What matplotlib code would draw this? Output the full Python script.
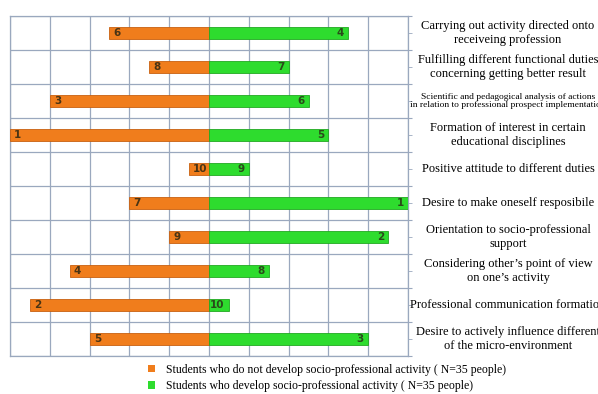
import matplotlib
matplotlib.use("Agg")
import matplotlib.pyplot as plt
import matplotlib.transforms as mtransforms
from matplotlib.patches import Patch

# ---------- DATA ------------
categories = [
    "Carrying out activity directed onto\nreceiveing profession",
    "Fulfilling different functional duties\nconcerning getting better result",
    "Scientific and pedagogical analysis of actions\nin relation to professional prospect implementation",
    "Formation of interest in certain\neducational disciplines",
    "Positive attitude to different duties",
    "Desire to make oneself resposibile",
    "Orientation to socio-professional\nsupport",
    "Considering other\u2019s point of view\non one\u2019s activity",
    "Professional communication formation",
    "Desire to actively influence different\nof the micro-environment",
]
not_dev_len = [2.5, 1.5, 4.0, 5.0, 0.5, 2.0, 1.0, 3.5, 4.5, 3.0]
dev_len = [3.5, 2.0, 2.5, 3.0, 1.0, 5.0, 4.5, 1.5, 0.5, 4.0]
not_dev_rank = [6, 8, 3, 1, 10, 7, 9, 4, 2, 5]
dev_rank = [4, 7, 6, 5, 9, 1, 2, 8, 10, 3]
legend_labels = [
    "Students who do not develop socio-professional activity ( N=35 people)",
    "Students who develop socio-professional activity ( N=35 people)",
]
# ----------------------------

orange = "#F07D1C"
green = "#2EDC2E"
grid_c = "#9AA8BE"
serif = ["Liberation Serif", "DejaVu Serif"]

fig = plt.figure(figsize=(5.98, 3.94), dpi=100)
ax = fig.add_axes([10 / 598, 1 - 356 / 394, 398 / 598, 340 / 394])

n = len(categories)
y = list(range(n))
h = 0.38
ax.barh(y, [-v for v in not_dev_len], height=h, color=orange,
        edgecolor="#C86010", linewidth=0.6, zorder=3)
ax.barh(y, dev_len, height=h, color=green,
        edgecolor="#22A822", linewidth=0.6, zorder=3)

for i in range(n):
    ax.annotate(str(not_dev_rank[i]), (-not_dev_len[i], y[i]), xytext=(3, 0),
                textcoords="offset points", ha="left", va="center",
                fontsize=7.5, fontweight="bold", color="#4A3414", zorder=4)
    ax.annotate(str(dev_rank[i]), (dev_len[i], y[i]), xytext=(-3, 0),
                textcoords="offset points", ha="right", va="center",
                fontsize=7.5, fontweight="bold", color="#2A4A1A", zorder=4)

ax.set_xlim(-5, 5)
ax.set_ylim(n - 0.5, -0.5)
ax.set_xticks(range(-5, 6))
ax.set_yticks([i - 0.5 for i in range(n + 1)])
ax.grid(True, color=grid_c, linewidth=0.9, zorder=0)
ax.tick_params(axis="x", length=0, labelbottom=False)
ax.tick_params(axis="y", left=False, right=True, labelleft=False,
               length=3, color=grid_c, direction="out")
ax.set_yticks(y, minor=True)
ax.tick_params(axis="y", which="minor", left=False, right=True,
               length=3, color=grid_c)
for s in ax.spines.values():
    s.set_color(grid_c)
    s.set_linewidth(0.9)

trans = mtransforms.blended_transform_factory(fig.transFigure, ax.transData)
for i, lab in enumerate(categories):
    fs = 6.8 if i == 2 else 9
    ax.text(508 / 598, y[i], lab, transform=trans, ha="center", va="center",
            fontsize=fs, family=serif, linespacing=1.15, clip_on=False)

handles = [Patch(facecolor=orange), Patch(facecolor=green)]
fig.legend(handles, legend_labels, loc="upper left",
           bbox_to_anchor=(142 / 598, 1 - 358 / 394), frameon=False,
           handlelength=0.6, handleheight=0.6, handletextpad=0.9,
           labelspacing=0.35, borderpad=0, prop={"family": serif, "size": 8.5})

fig.savefig("out.png", dpi=100)
